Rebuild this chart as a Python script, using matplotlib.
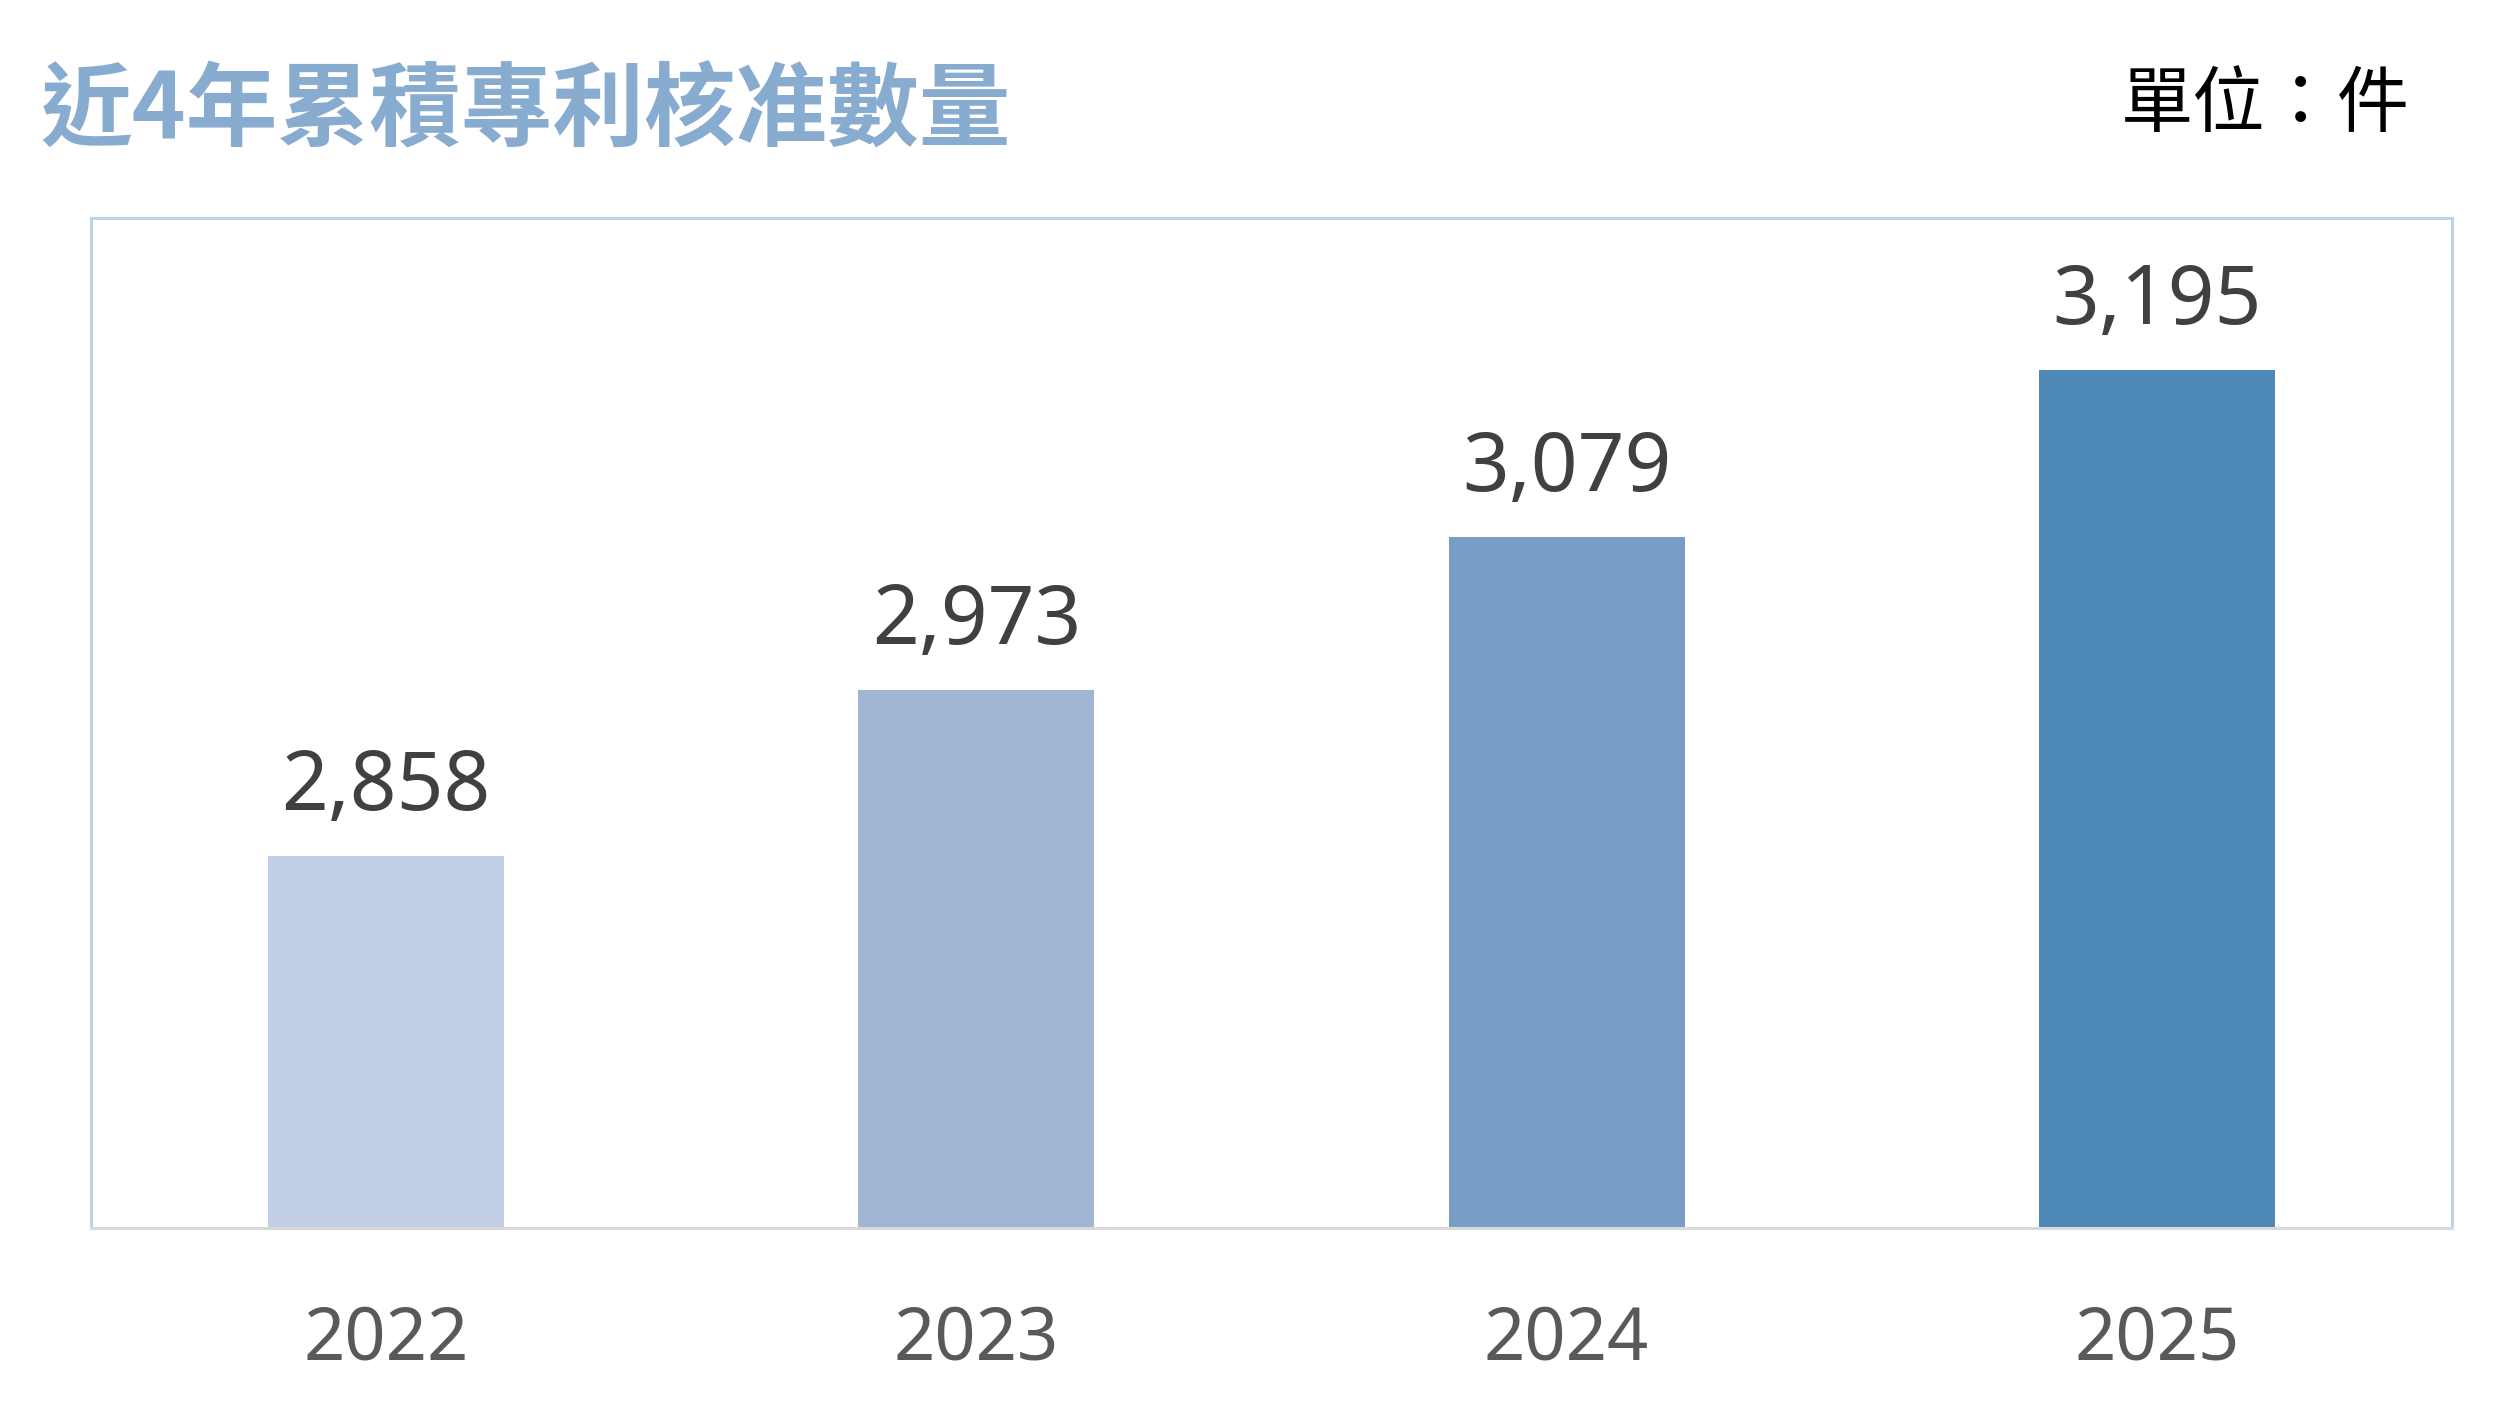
import matplotlib
matplotlib.use("Agg")
import matplotlib.pyplot as plt

# data
years = ["2022", "2023", "2024", "2025"]
patents = [2858, 2973, 3079, 3195]
bar_colors = ["#c1cee5", "#a0b5d4", "#799ec6", "#4d88b6"]

title = "近4年累積專利核准數量"
unit = "單位：件"

W, H = 2495, 1411
fig = plt.figure(figsize=(W / 100, H / 100), dpi=100)

# plot box in pixels: x 91..2452, y 218..1228
ax = fig.add_axes([91 / W, (H - 1228) / H, (2452 - 91) / W, (1228 - 218) / H])

x = list(range(len(years)))
ax.bar(x, patents, width=0.4, color=bar_colors, zorder=2)
ax.set_xlim(-0.5, len(years) - 0.5)
ax.set_ylim(2600, 3300)

# value labels over the bars
for xi, v in zip(x, patents):
    ax.annotate(f"{v:,}", (xi, v), xytext=(0, 33), textcoords="offset points",
                ha="center", va="baseline", fontsize=59, color="#404040",
                family=["Noto Sans", "DejaVu Sans"])

ax.set_yticks([])
ax.set_xticks(x)
ax.set_xticklabels(years, fontsize=52, color="#595959", family=["Noto Sans", "DejaVu Sans"])
ax.tick_params(axis="x", length=0, pad=95)
for lbl in ax.get_xticklabels():
    lbl.set_va("baseline")

for side in ["top", "left", "right"]:
    ax.spines[side].set_color("#bed3e6")
    ax.spines[side].set_linewidth(2.2)
ax.spines["bottom"].set_color("#d9d9d9")
ax.spines["bottom"].set_linewidth(2.2)

fig.text(40 / W, 1 - 113 / H, title, fontsize=66, fontweight="bold", color="#88abd0",
         ha="left", va="center", family=["Noto Sans CJK TC", "DejaVu Sans"])
fig.text(2410 / W, 1 - 105 / H, unit, fontsize=52, color="#000000",
         ha="right", va="center", family=["Noto Sans CJK TC", "DejaVu Sans"])

fig.savefig("out.png", dpi=100, facecolor="white")
